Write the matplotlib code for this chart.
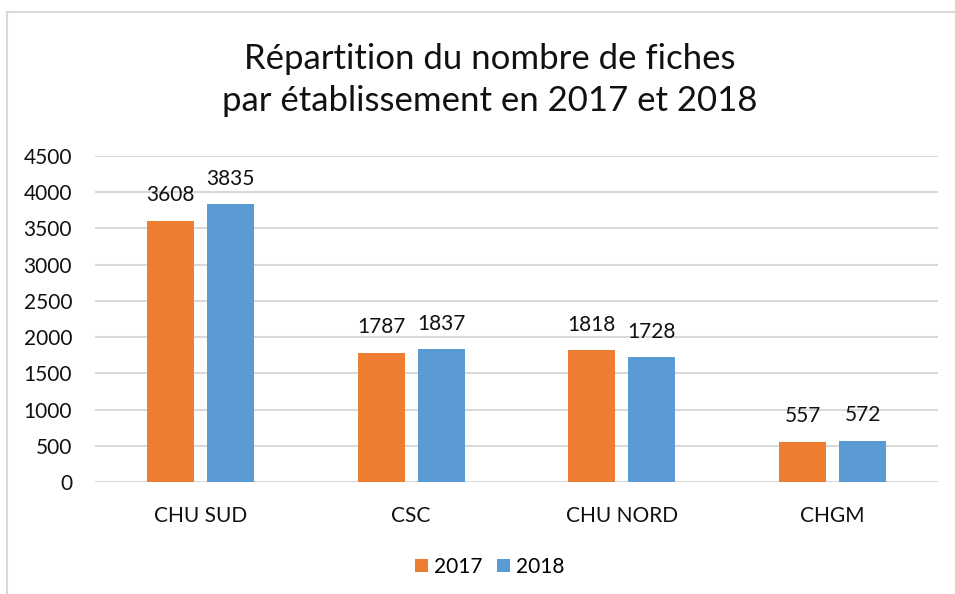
import numpy as np
import matplotlib
matplotlib.use("Agg")
import matplotlib.pyplot as plt
from matplotlib.patches import Rectangle

# ---------------------------------------------------------------------------
# Data
# ---------------------------------------------------------------------------
categories = ["CHU SUD", "CSC", "CHU NORD", "CHGM"]
years = ["2017", "2018"]
values_2017 = [3608, 1787, 1818, 557]
values_2018 = [3835, 1837, 1728, 572]
yticks = [0, 500, 1000, 1500, 2000, 2500, 3000, 3500, 4000, 4500]

ORANGE = "#ED7D31"
BLUE = "#5B9BD5"
GRID = "#D9D9D9"
TXT = "#111111"

plt.rcParams["font.family"] = ["Lato", "DejaVu Sans"]

W, H = 955, 594
fig = plt.figure(figsize=(W / 100, H / 100), dpi=100)

# chart frame (top + left edges visible, rest cut by the image)
fig.patches.append(Rectangle((7 / W, -0.1), 1.2, 1 - 12 / H + 0.1,
                             transform=fig.transFigure, fill=False,
                             edgecolor=GRID, lw=1.5))

ax = fig.add_axes([95 / W, 1 - 482 / H, (938 - 95) / W, (482 - 156) / H])

x = np.arange(len(categories))
bw = 0.223
off = 0.1425
b1 = ax.bar(x - off, values_2017, bw, color=ORANGE, label=years[0], zorder=3)
b2 = ax.bar(x + off, values_2018, bw, color=BLUE, label=years[1], zorder=3)

for bars in (b1, b2):
    for r in bars:
        ax.annotate(f"{int(r.get_height())}",
                    (r.get_x() + r.get_width() / 2, r.get_height()),
                    xytext=(0, 11), textcoords="offset points",
                    ha="center", va="bottom", fontsize=15, color=TXT)

ax.set_xlim(-0.5, len(categories) - 0.5)
ax.set_ylim(0, 4500)
ax.set_yticks(yticks)
ax.set_xticks(x)
ax.set_xticklabels(categories)
ax.tick_params(axis="y", length=0, pad=16.5, labelsize=15, labelcolor=TXT)
ax.tick_params(axis="x", length=0, pad=17, labelsize=15, labelcolor=TXT)
ax.grid(axis="y", color=GRID, lw=1.5, zorder=0)
for s in ax.spines.values():
    s.set_visible(False)

fig.text(0.513, 1 - 80 / H,
         "Répartition du nombre de fiches\npar établissement en 2017 et 2018",
         ha="center", va="center", fontsize=25, linespacing=1.38,
         color=TXT)

fig.legend(loc="center", bbox_to_anchor=(0.513, 1 - 567 / H), ncol=2,
           frameon=False, fontsize=15, handlelength=0.62, handleheight=0.62,
           handletextpad=0.3, columnspacing=0.7)

fig.savefig("out.png", dpi=100)
